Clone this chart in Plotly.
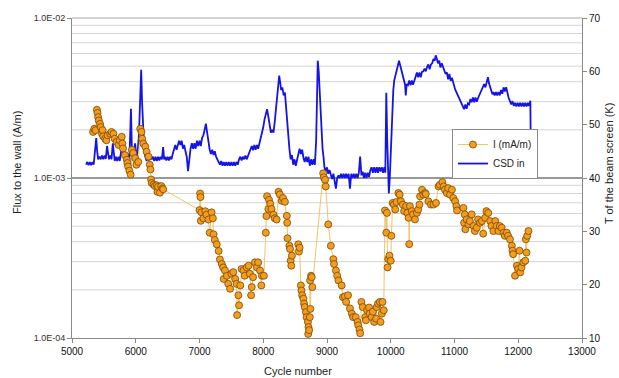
import plotly.graph_objects as go
import math

# ---------------- data ----------------
# Electron flux to the wall, I (values in units of 1e-3 A/m)
flux_cycle = [
    5390, 5400, 5410, 5420, 5440, 5350, 5330, 5370, 5450, 5480, 5470, 5490, 5520, 5540, 5560,
    5600, 5620, 5650, 5670, 5700, 5730, 5750, 5780, 5790, 5800, 5830, 5860, 5870, 5880, 5900,
    5920, 5940, 5960, 5990, 6010, 6040, 6070, 6090, 6100, 6120, 6150, 6170, 6200, 6220, 6230,
    6240, 6250, 6280, 6300, 6330, 6350, 6340, 6380, 6400, 6420, 6430,
    7010, 7015, 7000, 7030, 7020, 7060, 7090, 7110, 7140, 7190, 7210, 7160, 7220, 7240, 7270,
    7300, 7320, 7350, 7370, 7400, 7380, 7430, 7450, 7480, 7500, 7530, 7560, 7580, 7610, 7620,
    7590, 7640, 7660, 7690, 7710, 7740, 7770, 7790, 7820, 7810, 7840, 7870, 7900, 7920, 7950,
    7980, 7970, 8010, 8040, 8050, 8060, 8090, 8110, 8080, 8130, 8160, 8180, 8210, 8240, 8260,
    8290, 8310, 8340, 8370, 8375, 8380, 8410, 8420, 8450, 8430, 8440, 8550, 8570, 8560, 8590,
    8600, 8610, 8630, 8640, 8650, 8670, 8680, 8700, 8710, 8720, 8705, 8730, 8740, 8735, 8750,
    8760, 8770, 8940, 8950, 8970, 8980, 9020, 9060, 9100, 9110, 9140, 9160, 9180, 9230, 9250,
    9280, 9330, 9300, 9360, 9390, 9410, 9450, 9480, 9490, 9510, 9520, 9540, 9560, 9600, 9610,
    9630, 9660, 9670, 9700, 9720, 9740, 9770, 9780, 9800, 9830, 9840, 9860, 9870, 9890, 9910,
    9930, 9940, 9950, 9960, 9980, 10000, 10010, 10030, 10050, 10070, 10090, 10120, 10140, 10160, 10190,
    10210, 10240, 10260, 10280, 10290, 10300, 10330, 10350, 10380, 10410, 10430, 10450, 10460, 10490, 10510,
    10540, 10550, 10590, 10630, 10670, 10710, 10750, 10770, 10810, 10830, 10850, 10880, 10900, 10930, 10960,
    10980, 11010, 11030, 11040, 11140, 11160, 11150, 11170, 11190, 11220, 11240, 11270, 11300, 11320, 11350,
    11370, 11400, 11430, 11450, 11480, 11500, 11530, 11560, 11580, 11610, 11640, 11660, 11690, 11710, 11740,
    11770, 11790, 11820, 11840, 11870, 11900, 11910, 11920, 11950, 11980, 12000, 12020, 12030, 12050, 12080,
    12110, 12130, 12120, 12140, 12160,
]
flux_milli = [
    2.67, 2.55, 2.40, 2.29, 2.18, 2.03, 1.94, 1.99, 2.08, 1.99, 1.89, 1.82, 1.76, 1.72, 1.85,
    1.89, 1.94, 1.89, 1.76, 1.68, 1.61, 1.72, 1.81, 1.64, 1.53, 1.39, 1.30, 1.24, 1.18, 1.11,
    1.05, 1.50, 1.43, 1.33, 1.21, 1.26, 2.03, 1.94, 1.76, 1.64, 1.57, 1.46, 1.36, 1.21, 1.13,
    0.98, 0.93, 0.91, 0.89, 0.90, 0.88, 0.82, 0.81, 0.89, 0.86, 0.85,
    0.80, 0.76, 0.63, 0.61, 0.54, 0.56, 0.62, 0.59, 0.55, 0.61, 0.56, 0.455, 0.445, 0.41, 0.385,
    0.35, 0.31, 0.29, 0.276, 0.264, 0.234, 0.245, 0.218, 0.203, 0.252, 0.258, 0.234, 0.218, 0.185, 0.160,
    0.139, 0.213, 0.270, 0.264, 0.245, 0.276, 0.283, 0.252, 0.208, 0.185, 0.240, 0.297, 0.276, 0.297, 0.264,
    0.245, 0.213, 0.245, 0.455, 0.578, 0.77, 0.73, 0.69, 0.64, 0.64, 0.59, 0.56, 0.55, 0.82, 0.79,
    0.72, 0.75, 0.71, 0.58, 0.525, 0.42, 0.377, 0.36, 0.327, 0.304, 0.283, 0.385, 0.367, 0.347, 0.213,
    0.198, 0.185, 0.176, 0.164, 0.156, 0.145, 0.135, 0.126, 0.117, 0.112, 0.106, 0.135, 0.152, 0.229, 0.245,
    0.240, 0.208, 1.07, 1.01, 0.975, 0.886, 0.513, 0.377, 0.311, 0.290, 0.264, 0.245, 0.229, 0.213, 0.180,
    0.182, 0.185, 0.168, 0.153, 0.142, 0.135, 0.135, 0.126, 0.120, 0.113, 0.107, 0.168, 0.156, 0.135, 0.129,
    0.149, 0.155, 0.142, 0.135, 0.146, 0.126, 0.132, 0.156, 0.164, 0.168, 0.126, 0.142, 0.168, 0.149, 0.627,
    0.455, 0.605, 0.276, 0.311, 0.327, 0.304, 0.435, 0.698, 0.682, 0.636, 0.708, 0.805, 0.787, 0.715, 0.682,
    0.621, 0.667, 0.605, 0.564, 0.386, 0.667, 0.621, 0.592, 0.551, 0.605, 0.635, 0.682, 0.768, 0.845, 0.787,
    0.805, 0.794, 0.715, 0.682, 0.682, 0.698, 0.886, 0.908, 0.942, 0.886, 0.845, 0.805, 0.865, 0.787, 0.845,
    0.750, 0.715, 0.667, 0.627, 0.650, 0.592, 0.525, 0.478, 0.551, 0.513, 0.538, 0.592, 0.501, 0.466, 0.489,
    0.551, 0.525, 0.538, 0.449, 0.564, 0.621, 0.605, 0.538, 0.501, 0.466, 0.538, 0.501, 0.466, 0.501, 0.489,
    0.455, 0.435, 0.455, 0.435, 0.414, 0.377, 0.351, 0.334, 0.245, 0.283, 0.270, 0.351, 0.257, 0.276, 0.297,
    0.304, 0.342, 0.414, 0.435, 0.466,
]

# Beam-screen temperature, CSD in (K)
csd_cycle = [
    5220, 5240, 5260, 5280, 5300, 5320, 5340, 5360, 5380, 5395, 5410, 5430, 5450, 5470, 5490,
    5510, 5530, 5550, 5565, 5580, 5600, 5620, 5640, 5655, 5670, 5690, 5710, 5730, 5750, 5770,
    5790, 5805, 5820, 5840, 5860, 5880, 5900, 5925, 5940, 5955, 5970, 5990, 6010, 6030, 6050,
    6070, 6085, 6100, 6115, 6130, 6150, 6170, 6190, 6210, 6230, 6250, 6270, 6290, 6310, 6330,
    6350, 6370, 6390, 6410, 6430, 6445, 6460, 6480, 6500, 6520, 6540, 6560, 6580, 6600, 6620,
    6640, 6660, 6680, 6700, 6720, 6740, 6760, 6780, 6800, 6820, 6840, 6860, 6880, 6900, 6920,
    6940, 6960, 6980, 7000, 7020, 7040, 7060, 7080, 7100, 7120, 7140, 7160, 7180, 7200, 7220,
    7240, 7260, 7280, 7300, 7320, 7340, 7360, 7380, 7400, 7420, 7440, 7460, 7480, 7500, 7520,
    7540, 7560, 7580, 7600, 7620, 7640, 7660, 7680, 7700, 7720, 7740, 7760, 7780, 7800, 7820,
    7840, 7860, 7880, 7900, 7920, 7940, 7960, 7980, 8000, 8020, 8040, 8060, 8080, 8100, 8120,
    8140, 8160, 8180, 8200, 8220, 8240, 8250, 8265, 8280, 8300, 8320, 8340, 8355, 8370, 8390,
    8410, 8430, 8450, 8470, 8490, 8510, 8530, 8550, 8570, 8590, 8610, 8630, 8650, 8670, 8690,
    8710, 8730, 8750, 8770, 8790, 8810, 8830, 8845, 8855, 8870, 8880, 8895, 8915, 8930, 8945,
    8960, 8980, 9000, 9020, 9040, 9060, 9080, 9100, 9120, 9140, 9160, 9180, 9200, 9220, 9240,
    9260, 9280, 9300, 9320, 9340, 9360, 9380, 9400, 9420, 9440, 9460, 9480, 9500, 9520, 9540,
    9560, 9580, 9600, 9620, 9640, 9660, 9680, 9700, 9720, 9740, 9760, 9780, 9800, 9820, 9840,
    9860, 9880, 9900, 9915, 9930, 9945, 9960, 9970, 9985, 10000, 10020, 10040, 10055, 10075, 10090,
    10110, 10130, 10150, 10170, 10190, 10210, 10225, 10235, 10250, 10270, 10290, 10310, 10330, 10350, 10370,
    10390, 10410, 10430, 10450, 10470, 10490, 10510, 10530, 10550, 10570, 10590, 10610, 10630, 10650, 10670,
    10690, 10705, 10720, 10740, 10760, 10780, 10800, 10820, 10840, 10860, 10880, 10900, 10920, 10940, 10960,
    10975, 10990, 11010, 11030, 11050, 11070, 11090, 11110, 11130, 11150, 11170, 11190, 11210, 11230, 11250,
    11270, 11290, 11310, 11330, 11350, 11370, 11390, 11410, 11425, 11445, 11465, 11485, 11505, 11525, 11540,
    11555, 11575, 11595, 11610, 11630, 11650, 11670, 11690, 11710, 11730, 11750, 11770, 11790, 11810, 11830,
    11850, 11870, 11890, 11910, 11930, 11950, 11970, 11990, 12010, 12030, 12050, 12070, 12090, 12110, 12130,
    12150, 12170, 12190, 12195,
]
csd_T = [
    42.5, 43.0, 42.4, 43.0, 42.4, 43.0, 42.5, 44.5, 47.5, 45.0, 43.5, 44.0, 43.5, 44.2, 43.5,
    44.2, 43.6, 46.0, 44.0, 43.5, 44.2, 43.5, 46.5, 44.0, 43.2, 44.0, 43.2, 44.0, 43.2, 45.0,
    47.0, 44.0, 43.5, 44.2, 43.5, 44.5, 43.5, 53.0, 45.0, 43.5, 44.5, 46.5, 44.0, 45.0, 48.0,
    55.0, 60.3, 54.0, 48.0, 46.0, 44.0, 43.2, 44.0, 43.2, 44.0, 43.5, 44.0, 43.2, 44.0, 43.2,
    44.0, 43.3, 44.0, 43.5, 45.8, 43.5, 44.0, 43.3, 44.0, 43.3, 44.0, 43.5, 44.5, 45.3, 46.2,
    45.3, 46.2, 47.0, 46.2, 47.0, 45.5, 46.2, 45.0, 44.0, 41.3, 44.0, 45.5, 46.5, 45.5, 46.5,
    45.5, 47.0, 46.0, 47.0, 46.0, 47.5, 48.0, 49.0, 50.2, 48.5, 46.5, 45.3, 44.5, 45.3, 44.3,
    45.0, 44.0, 43.5, 43.0, 42.5, 43.2, 42.3, 43.0, 42.3, 43.0, 42.3, 43.0, 42.3, 43.0, 42.3,
    43.0, 42.3, 43.0, 42.5, 43.5, 44.0, 43.3, 44.0, 43.5, 44.2, 43.5, 44.2, 44.5, 45.2, 46.0,
    45.2, 46.2, 45.3, 46.2, 45.5, 46.5, 47.0, 48.0, 49.5, 51.0, 52.0, 52.9, 51.5, 49.5, 48.5,
    49.0, 48.5, 50.5, 53.0, 55.5, 58.0, 59.2, 58.0, 56.5, 57.0, 55.5, 56.0, 53.5, 51.0, 48.0,
    45.5, 43.5, 44.3, 42.5, 43.5, 42.3, 43.5, 44.5, 45.5, 44.5, 45.3, 43.8, 43.0, 44.0, 43.0,
    44.0, 42.3, 43.5, 42.5, 43.5, 42.5, 47.0, 58.0, 62.0, 60.0, 57.5, 53.0, 48.0, 45.5, 44.0,
    42.0, 41.2, 42.0, 40.8, 41.5, 40.6, 39.8, 40.8, 39.5, 38.0, 40.0, 40.5, 40.0, 40.8, 40.0,
    40.8, 40.0, 40.8, 40.0, 40.8, 38.0, 40.8, 40.0, 40.8, 40.0, 40.8, 40.0, 41.0, 44.0, 40.5,
    41.2, 40.0, 41.0, 40.0, 41.0, 40.2, 41.5, 42.0, 41.0, 42.0, 41.0, 42.0, 41.0, 42.0, 41.2,
    42.0, 41.0, 42.0, 41.0, 56.0, 47.0, 38.5, 37.1, 40.0, 45.0, 52.9, 56.5, 58.3, 59.5, 60.4,
    61.0, 62.0, 61.0, 60.3, 59.0, 58.0, 57.5, 55.5, 57.6, 57.4, 58.3, 57.4, 58.3, 57.5, 58.5,
    59.0, 59.8, 58.9, 59.8, 58.9, 59.9, 60.0, 60.5, 60.0, 60.8, 61.3, 60.4, 61.3, 61.5, 62.3,
    62.0, 63.0, 62.5, 61.5, 62.0, 60.7, 61.5, 60.7, 60.0, 59.5, 59.8, 58.5, 59.5, 58.2, 58.8,
    57.8, 57.5, 56.6, 56.0, 55.5, 55.0, 54.5, 54.0, 53.5, 52.9, 53.8, 53.0, 54.0, 53.8, 54.8,
    54.2, 55.1, 54.2, 55.1, 54.3, 55.0, 55.5, 56.0, 56.6, 57.0, 57.6, 57.0, 58.2, 58.9, 57.8,
    57.2, 56.3, 55.7, 56.1, 55.5, 56.1, 55.5, 56.1, 55.5, 56.5, 55.8, 57.0, 56.2, 57.0, 55.8,
    55.0, 54.4, 53.8, 54.4, 53.5, 54.1, 53.4, 54.1, 53.4, 54.1, 53.4, 54.1, 53.4, 54.1, 53.4,
    54.1, 53.5, 54.5, 47.3,
]

flux_ticks = [1e-4, 1e-3, 1e-2]
flux_ticktext = ["1.0E-04", "1.0E-03", "1.0E-02"]
temp_ticks = [10, 20, 30, 40, 50, 60, 70]
cycle_ticks = [5000, 6000, 7000, 8000, 9000, 10000, 11000, 12000, 13000]
cycle_ticktext = [str(c) for c in cycle_ticks]

# ---------------- figure ----------------
pairs = sorted(zip(flux_cycle, flux_milli))
fx = [p[0] for p in pairs]
fy = [p[1] * 1e-3 for p in pairs]

FONT = "Arial, 'Liberation Sans', sans-serif"

fig = go.Figure()
fig.add_trace(go.Scatter(
    x=fx, y=fy, yaxis="y2", name="I (mA/m)", mode="lines+markers",
    line=dict(color="#f2c36a", width=1),
    marker=dict(size=7, color="#f39c1e", line=dict(color="#7a4a05", width=0.8)),
))
fig.add_trace(go.Scatter(
    x=csd_cycle, y=csd_T, yaxis="y", name="CSD in", mode="lines",
    line=dict(color="#1414e6", width=1.8),
))

shapes = []
for dec in (-4, -3):
    for k in range(2, 10):
        yp = (math.log10(k) + dec + 4) / 2
        shapes.append(dict(type="line", xref="paper", yref="paper", x0=0, x1=1,
                           y0=yp, y1=yp, line=dict(color="#d4d4d4", width=1), layer="below"))
shapes.append(dict(type="line", xref="paper", yref="paper", x0=0, x1=1, y0=1, y1=1,
                   line=dict(color="#a8a8a8", width=1), layer="below"))
shapes.append(dict(type="line", xref="paper", yref="paper", x0=0, x1=1, y0=0.5, y1=0.5,
                   line=dict(color="#333333", width=1), layer="below"))

axis_common = dict(showline=True, linecolor="#8a8a8a", linewidth=1, ticks="outside",
                   ticklen=4, tickcolor="#8a8a8a", showgrid=False, zeroline=False)

fig.update_layout(
    width=619, height=378,
    margin=dict(l=72, r=37, t=15, b=40),
    paper_bgcolor="white", plot_bgcolor="white",
    font=dict(family=FONT, size=10, color="#222"),
    showlegend=True,
    legend=dict(x=0.745, y=0.653, xanchor="left", yanchor="top",
                bgcolor="white", bordercolor="#8a8a8a", borderwidth=1,
                font=dict(size=10, color="#222"), tracegroupgap=0,
                itemwidth=30),
    xaxis=dict(range=[5000, 13000], tickvals=cycle_ticks, ticktext=cycle_ticktext,
               **axis_common, tickfont=dict(size=10, color="#111")),
    yaxis=dict(range=[10, 70], side="right", tickvals=temp_ticks, **axis_common,
               tickfont=dict(size=10, color="#111")),
    yaxis2=dict(type="log", range=[-4, -2], overlaying="y", side="left",
                tickvals=flux_ticks, ticktext=flux_ticktext, **axis_common,
                tickfont=dict(size=9, color="#333")),
    shapes=shapes,
    annotations=[
        dict(text="Flux to the wall (A/m)", xref="paper", yref="paper", x=-0.108, y=0.55,
             xanchor="center", yanchor="middle",
             showarrow=False, textangle=-90, font=dict(size=11, color="#222")),
        dict(text="T of the beam screen (K)", xref="paper", yref="paper", x=1.052, y=0.545,
             xanchor="center", yanchor="middle",
             showarrow=False, textangle=-90, font=dict(size=11, color="#222")),
        dict(text="Cycle number", xref="paper", yref="paper", x=0.443, y=-0.102,
             xanchor="center", yanchor="middle",
             showarrow=False, font=dict(size=11, color="#222")),
    ],
)

fig.write_html("out.html")
